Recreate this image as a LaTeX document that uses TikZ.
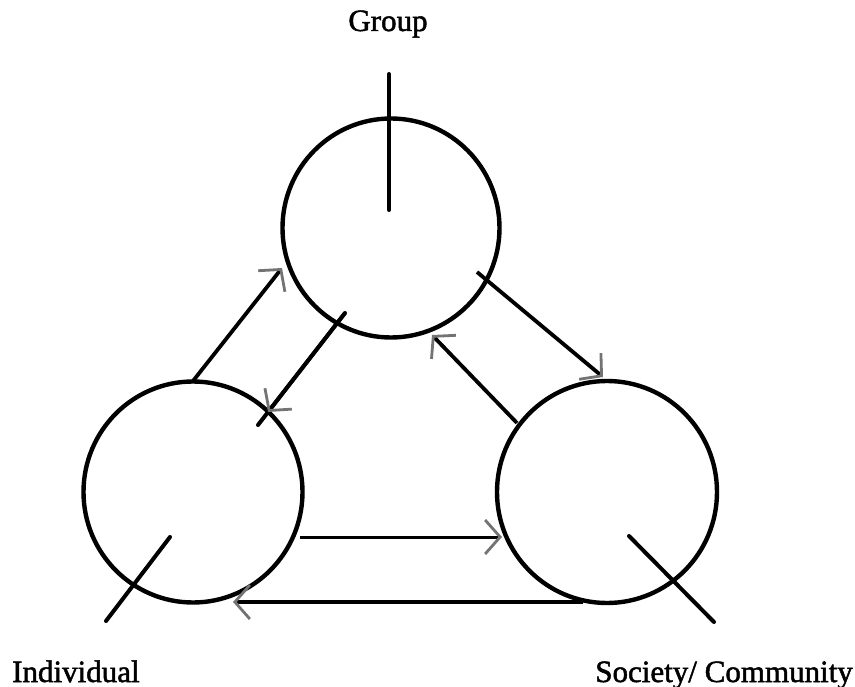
\documentclass[tikz,border=0pt]{standalone}
\usepackage{fontspec}
\setmainfont{Liberation Serif}
\newfontfamily\lblfont[FakeBold=1.6]{Liberation Serif}
\usetikzlibrary{arrows.meta,shapes.geometric}
\begin{document}
\begin{tikzpicture}[x=1pt,y=-1pt,
  circ/.style={draw, ellipse, line width=4.4pt, inner sep=0pt},
  link/.style={line width=4pt, line cap=round},
  flow/.style={line width=3.8pt, -{Straight Barb[length=15pt,width=34pt,line width=2.8pt,color=black!55]}},
  lbl/.style={font=\lblfont\fontsize{31}{36}\selectfont, inner sep=0pt}]
\useasboundingbox (0,0) rectangle (855,687);
% circles
\node[circ, minimum width=217pt, minimum height=219pt] (G) at (391,228) {};
\node[circ, minimum width=219pt, minimum height=221pt] (I) at (193,492) {};
\node[circ, minimum width=220pt, minimum height=222pt] (S) at (607,492) {};
% labels
\node[lbl, anchor=base] (gl) at (388,31) {Group};
\node[lbl, anchor=base west] (il) at (12,682) {Individual};
\node[lbl, anchor=base east] (sl) at (853,682) {Society/ Community};
% radial strokes
\coordinate (gt) at (389,74); \coordinate (gc) at (389,210);
\coordinate (ic) at (170,537); \coordinate (io) at (106,621);
\coordinate (sc) at (629,536); \coordinate (so) at (714,622);
\draw[link] (gt) -- (gc);
\draw[link] (ic) -- (io);
\draw[link] (sc) -- (so);
% arrows
\coordinate (a1s) at (193,381); \coordinate (a1e) at (282,268);
\coordinate (a2s) at (345,313); \coordinate (a2e) at (268,412); \coordinate (a2x) at (258,425);
\coordinate (a3s) at (477,272); \coordinate (a3e) at (603,377);
\coordinate (a4s) at (517,423); \coordinate (a4e) at (432,335);
\coordinate (a5s) at (300,537); \coordinate (a5e) at (502,537);
\coordinate (a6s) at (583,602); \coordinate (a6e) at (233,602);
\draw[link] (a2s) -- (a2x);
\draw[flow] (a1s) -- (a1e);
\draw[flow] (a2s) -- (a2e);
\draw[flow] (a3s) -- (a3e);
\draw[flow] (a4s) -- (a4e);
\draw[flow, line width=3pt] (a5s) -- (a5e);
\draw[flow] (a6s) -- (a6e);
\end{tikzpicture}
\end{document}
